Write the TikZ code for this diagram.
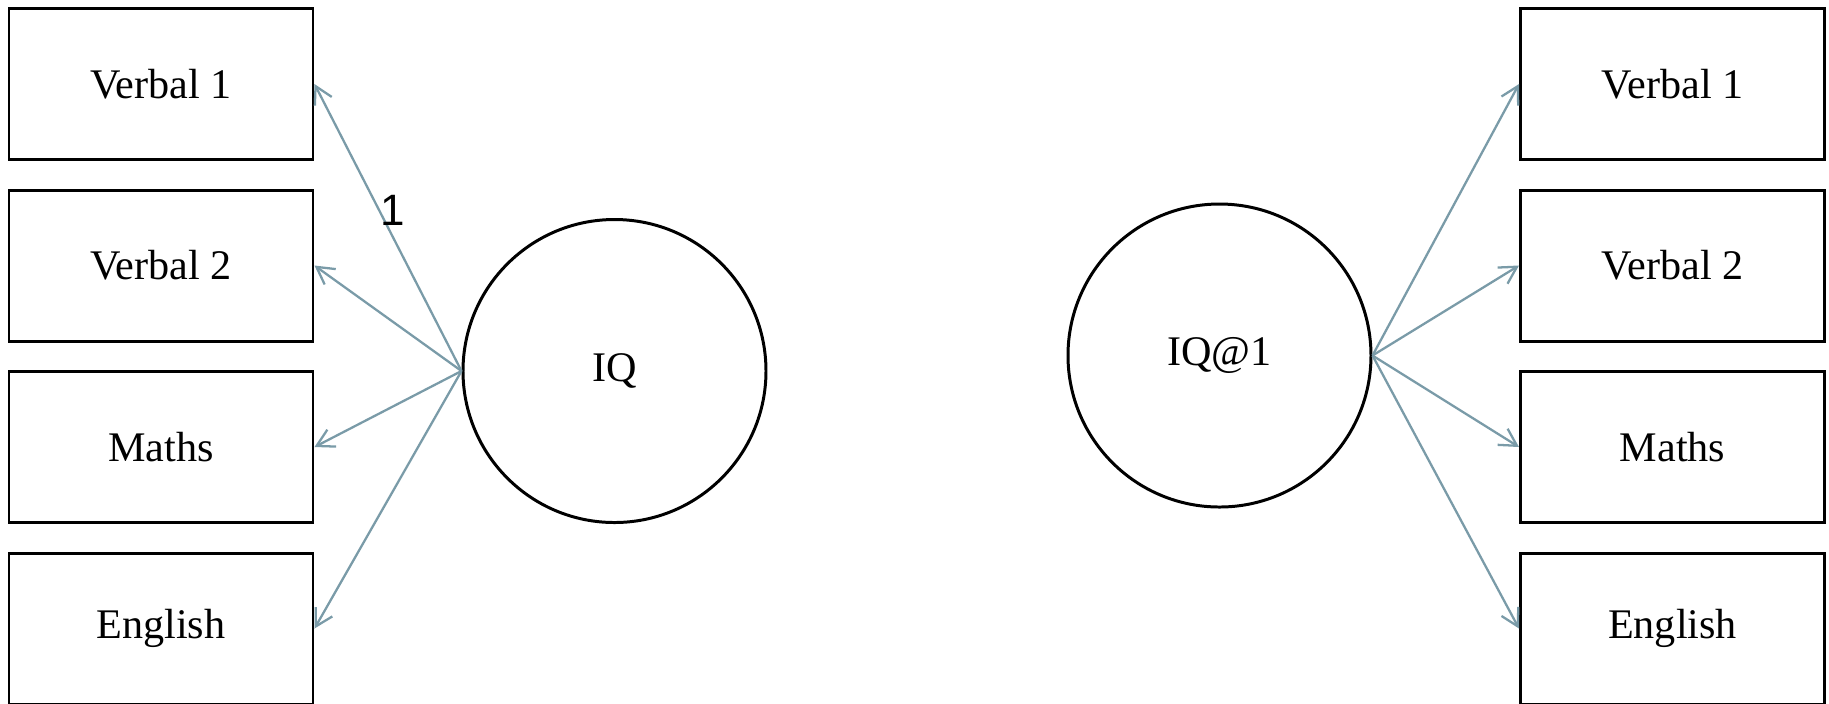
\documentclass[tikz,border=0pt]{standalone}
\usepackage{fontspec}
\setmainfont{Liberation Serif}
\newfontfamily\labelfont{Liberation Sans}
\usetikzlibrary{arrows.meta,positioning}
\definecolor{ink}{HTML}{000000}
\definecolor{pathline}{HTML}{7A9BA8}
\newcommand{\boxsize}{\fontsize{12}{14}\selectfont}
\tikzset{
 every node/.append style={font=\boxsize,text=ink,align=center},
 manifest/.style={draw=ink,line width=.85pt,minimum width=30.4mm,minimum height=15.1mm,inner sep=0pt},
 latent/.style={circle,draw=ink,line width=.85pt,minimum size=30.3mm,inner sep=0pt},
 loading/.style={-{Straight Barb[length=1.7mm,width=1.9mm]},draw=pathline,line width=.65pt},
 fixlabel/.style={font=\labelfont\fontsize{12.5}{15}\selectfont,inner sep=0pt},
}
\begin{document}
\begin{tikzpicture}

\useasboundingbox (0,0) rectangle (18.29,-7.03);
% left model
\node[manifest] (lv1) at (1.61,-.84) {Verbal 1};
\node[manifest] (lv2) at (1.61,-2.655) {Verbal 2};
\node[manifest] (lma) at (1.61,-4.47) {Maths};
\node[manifest] (len) at (1.61,-6.285) {English};
\node[latent] (iq) at (6.145,-3.71) {IQ};
\draw[loading] (iq.west) -- node[fixlabel,pos=.56,anchor=west] {1} (lv1.east);
\draw[loading] (iq.west) -- (lv2.east);
\draw[loading] (iq.west) -- (lma.east);
\draw[loading] (iq.west) -- (len.east);
% right model
\node[manifest] (rv1) at (16.725,-.84) {Verbal 1};
\node[manifest] (rv2) at (16.725,-2.655) {Verbal 2};
\node[manifest] (rma) at (16.725,-4.47) {Maths};
\node[manifest] (ren) at (16.725,-6.285) {English};
\node[latent] (iqf) at (12.195,-3.555) {IQ@1};
\draw[loading] (iqf.east) -- (rv1.west);
\draw[loading] (iqf.east) -- (rv2.west);
\draw[loading] (iqf.east) -- (rma.west);
\draw[loading] (iqf.east) -- (ren.west);

\end{tikzpicture}
\end{document}
